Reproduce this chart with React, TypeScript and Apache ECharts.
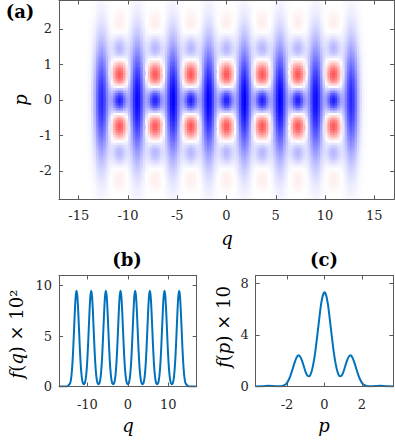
import React, { useEffect, useRef } from "react";
import * as echarts from "echarts";

// ---------- Panel (a): features of the phase-space map ----------
const A_Q_RANGE = [-17, 17];
const A_P_RANGE = [-2.8, 2.8];
const A_Q_TICKS = [-15, -10, -5, 0, 5, 10, 15];
const A_P_TICKS = [-2, -1, 0, 1, 2];
// positive (blue) vertical stripes
const STRIPE_Q = [-12.67, -9.05, -5.43, -1.81, 1.81, 5.43, 9.05, 12.67];
const STRIPE_AMP = [0.85, 0.97, 1.0, 1.0, 1.0, 1.0, 0.97, 0.85];
// interference columns (blue at p=0, red at ±0.77, light blue ±1.55, light red ±2.3)
const FRINGE_Q = [-10.86, -7.24, -3.62, 0, 3.62, 7.24, 10.86];
const FRINGE_AMP = [0.88, 0.88, 0.88, 0.88, 0.88, 0.88, 0.88];
const Q_WIDTH = 0.5;
const STRIPE_P_WIDTH = 1.1;
const FRINGE_P_WIDTH = 1.0;
const FRINGE_P_PERIOD = 1.55;

// ---------- Panel (b): f(q) x 10^2 ----------
const B_Q_RANGE = [-17, 17];
const B_Y_RANGE = [0, 11];
const B_Q_TICKS = [-10, 0, 10];
const B_Y_TICKS = [0, 5, 10];
const PEAK_Q = [-12.67, -9.05, -5.43, -1.81, 1.81, 5.43, 9.05, 12.67];
const PEAK_OFFSET = [-1.6, -1.4, -1.2, -1.0, -0.8, -0.6, -0.4, -0.2, 0, 0.2, 0.4, 0.6, 0.8, 1.0, 1.2, 1.4, 1.6];
const PEAK_SHAPE = [0.3, 0.63, 1.29, 2.37, 3.9, 5.76, 7.6, 8.99, 9.5, 8.99, 7.6, 5.76, 3.9, 2.37, 1.29, 0.63, 0.3];
const VALLEY_VALUE = 0.22;
const TAIL_Q = [-17, -15, -14.7, 14.7, 15, 17];
const TAIL_F = [0, 0, 0.1, 0.1, 0, 0];

// ---------- Panel (c): f(p) x 10 ----------
const C_P_RANGE = [-3.67, 3.67];
const C_Y_RANGE = [0, 8.6];
const C_P_TICKS = [-2, 0, 2];
const C_Y_TICKS = [0, 4, 8];
const P_POS = [0, 0.1, 0.2, 0.3, 0.4, 0.5, 0.6, 0.7, 0.8, 0.9, 1.0, 1.1, 1.2, 1.3, 1.4, 1.5, 1.6, 1.7, 1.8, 1.9, 2.0, 2.1, 2.2, 2.3, 2.4, 2.6, 2.8, 3.0, 3.2, 3.4, 3.67];
const F_P = [7.3, 7.0, 6.2, 5.0, 3.76, 2.6, 1.71, 1.1, 0.8, 0.82, 1.1, 1.55, 2.0, 2.32, 2.42, 2.22, 1.83, 1.36, 0.9, 0.54, 0.28, 0.13, 0.06, 0.02, 0.01, 0.02, 0.04, 0.05, 0.03, 0.01, 0];

const SERIF = "'DejaVu Serif', serif";
const AXIS_COLOR = "#5a5a5a";
const LINE_COLOR = "#0072BD";

function gauss(x: number, s: number) {
  return Math.exp(-(x * x) / (2 * s * s));
}

function buildCells() {
  const DQ = 0.25;
  const DP = 0.07;
  const cells: number[][] = [];
  const nq = Math.round((A_Q_RANGE[1] - A_Q_RANGE[0]) / DQ);
  const np = Math.round((A_P_RANGE[1] - A_P_RANGE[0]) / DP);
  for (let i = 0; i < nq; i++) {
    const q = A_Q_RANGE[0] + (i + 0.5) * DQ;
    for (let j = 0; j < np; j++) {
      const p = A_P_RANGE[0] + (j + 0.5) * DP;
      let v = 0;
      const gs = gauss(p, STRIPE_P_WIDTH);
      for (let k = 0; k < STRIPE_Q.length; k++) v += STRIPE_AMP[k] * gauss(q - STRIPE_Q[k], Q_WIDTH) * gs;
      const gf = gauss(p, FRINGE_P_WIDTH) * Math.cos((2 * Math.PI * p) / FRINGE_P_PERIOD);
      for (let k = 0; k < FRINGE_Q.length; k++) v += FRINGE_AMP[k] * gauss(q - FRINGE_Q[k], Q_WIDTH) * gf;
      if (Math.abs(v) > 0.004) cells.push([q, p, v]);
    }
  }
  return { cells, DQ, DP };
}

function buildFq() {
  const pts: number[][] = [];
  for (let i = 0; i < 3; i++) pts.push([TAIL_Q[i], TAIL_F[i]]);
  PEAK_Q.forEach((c, k) => {
    if (k > 0) pts.push([(PEAK_Q[k - 1] + c) / 2, VALLEY_VALUE]);
    PEAK_OFFSET.forEach((o, j) => pts.push([c + o, PEAK_SHAPE[j]]));
  });
  for (let i = 3; i < 6; i++) pts.push([TAIL_Q[i], TAIL_F[i]]);
  return pts;
}

function buildFp() {
  const pts: number[][] = [];
  for (let i = P_POS.length - 1; i > 0; i--) pts.push([-P_POS[i], F_P[i]]);
  for (let i = 0; i < P_POS.length; i++) pts.push([P_POS[i], F_P[i]]);
  return pts;
}

function axisX(gridIndex: number, range: number[], ticks: number[], position: string, labels: boolean, margin = 10) {
  return {
    type: "value",
    gridIndex,
    min: range[0],
    max: range[1],
    position,
    z: 10,
    axisLine: { show: true, onZero: false, lineStyle: { color: AXIS_COLOR, width: 1 } },
    axisTick: { show: true, inside: true, length: 4, customValues: ticks, lineStyle: { color: AXIS_COLOR, width: 1 } },
    axisLabel: { show: labels, customValues: ticks, margin, color: "#262626", fontFamily: SERIF, fontSize: 13 },
    splitLine: { show: false },
  };
}

function axisY(gridIndex: number, range: number[], ticks: number[], position: string, labels: boolean, margin = 7) {
  return {
    type: "value",
    gridIndex,
    min: range[0],
    max: range[1],
    position,
    z: 10,
    axisLine: { show: true, onZero: false, lineStyle: { color: AXIS_COLOR, width: 1 } },
    axisTick: { show: true, inside: true, length: 4, customValues: ticks, lineStyle: { color: AXIS_COLOR, width: 1 } },
    axisLabel: { show: labels, customValues: ticks, margin, color: "#262626", fontFamily: SERIF, fontSize: 13 },
    splitLine: { show: false },
  };
}

const it = { fontFamily: SERIF, fontStyle: "italic", fontSize: 18, color: "#000" };
const rm = { fontFamily: SERIF, fontSize: 18, color: "#000" };

function label(text: string, x: number, y: number, opts: any = {}) {
  return {
    type: "text",
    x,
    y,
    rotation: opts.rotation || 0,
    style: {
      text,
      rich: opts.rich,
      fontFamily: SERIF,
      fontSize: 18,
      fontWeight: opts.bold ? "bold" : "normal",
      fontStyle: opts.italic ? "italic" : "normal",
      fill: "#000",
      align: "center",
      verticalAlign: "middle",
    },
  };
}

export default function App() {
  const ref = useRef<HTMLDivElement>(null);
  useEffect(() => {
    document.body.style.margin = "0";
    if (!ref.current) return;
    const chart = echarts.init(ref.current, undefined, { renderer: "svg" });
    const { cells, DQ, DP } = buildCells();
    const option: any = {
      animation: false,
      backgroundColor: "#ffffff",
      textStyle: { fontFamily: SERIF },
      grid: [
        { left: 59, right: 1, top: 0.5, bottom: 243.7 },
        { left: 59, width: 137.7, top: 275.5, height: 111 },
        { left: 255.7, width: 137.6, top: 275.5, height: 111 },
      ],
      xAxis: [
        axisX(0, A_Q_RANGE, A_Q_TICKS, "bottom", true, 10),
        axisX(0, A_Q_RANGE, A_Q_TICKS, "top", false),
        axisX(1, B_Q_RANGE, B_Q_TICKS, "bottom", true, 11),
        axisX(1, B_Q_RANGE, B_Q_TICKS, "top", false),
        axisX(2, C_P_RANGE, C_P_TICKS, "bottom", true, 11),
        axisX(2, C_P_RANGE, C_P_TICKS, "top", false),
      ],
      yAxis: [
        axisY(0, A_P_RANGE, A_P_TICKS, "left", true),
        axisY(0, A_P_RANGE, A_P_TICKS, "right", false),
        axisY(1, B_Y_RANGE, B_Y_TICKS, "left", true),
        axisY(1, B_Y_RANGE, B_Y_TICKS, "right", false),
        axisY(2, C_Y_RANGE, C_Y_TICKS, "left", true),
        axisY(2, C_Y_RANGE, C_Y_TICKS, "right", false),
      ],
      visualMap: {
        type: "continuous",
        show: false,
        seriesIndex: 0,
        dimension: 2,
        min: -1,
        max: 1,
        inRange: { color: ["#ff0000", "#ffffff", "#0000ff"] },
      },
      series: [
        {
          type: "custom",
          xAxisIndex: 0,
          yAxisIndex: 0,
          clip: true,
          silent: true,
          data: cells,
          encode: { x: 0, y: 1 },
          renderItem: (params: any, api: any) => {
            const q = api.value(0);
            const p = api.value(1);
            const pt = api.coord([q - DQ / 2, p + DP / 2]);
            const sz = api.size([DQ, DP]);
            return {
              type: "rect",
              shape: { x: pt[0], y: pt[1], width: sz[0] + 0.6, height: sz[1] + 0.6 },
              style: { fill: api.visual("color") },
            };
          },
        },
        {
          type: "line",
          xAxisIndex: 2,
          yAxisIndex: 2,
          data: buildFq(),
          showSymbol: false,
          smooth: 0.2,
          lineStyle: { color: LINE_COLOR, width: 2 },
          silent: true,
        },
        {
          type: "line",
          xAxisIndex: 4,
          yAxisIndex: 4,
          data: buildFp(),
          showSymbol: false,
          smooth: 0.2,
          lineStyle: { color: LINE_COLOR, width: 2 },
          silent: true,
        },
      ],
      graphic: [
        label("(a)", 20, 11, { bold: true }),
        label("(b)", 127, 259, { bold: true }),
        label("(c)", 324, 259, { bold: true }),
        label("p", 20, 100, { italic: true, rotation: Math.PI / 2 }),
        label("q", 227, 238, { italic: true }),
        label("q", 128, 425, { italic: true }),
        label("p", 324, 425, { italic: true }),
        label("{i|f}{r|(}{i|q}{r|) × 10²}", 16, 334, { rotation: Math.PI / 2, rich: { i: it, r: rm } }),
        label("{i|f}{r|(}{i|p}{r|) × 10}", 223, 327, { rotation: Math.PI / 2, rich: { i: it, r: rm } }),
      ],
    };
    chart.setOption(option);
    return () => chart.dispose();
  }, []);
  return <div ref={ref} style={{ position: "absolute", left: 0, top: 0, width: 395, height: 443 }} />;
}
